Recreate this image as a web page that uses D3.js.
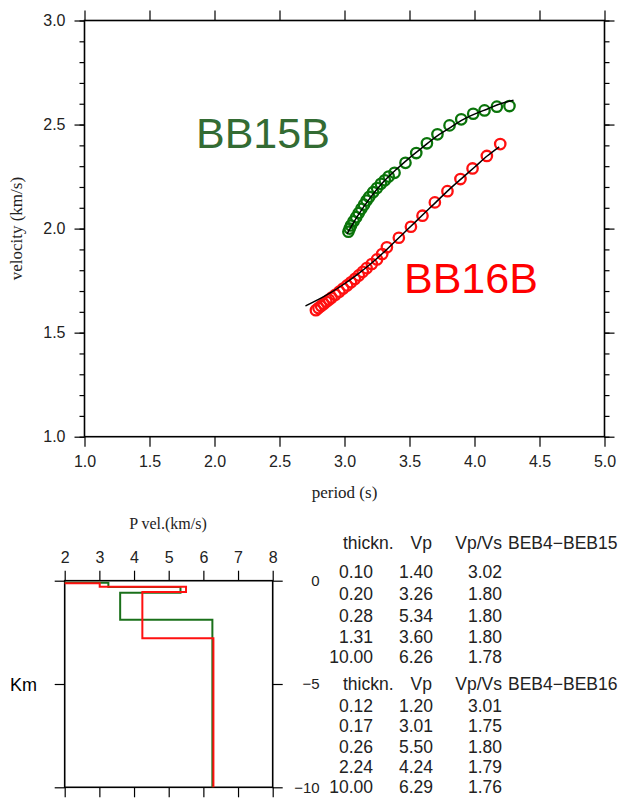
<!DOCTYPE html>
<html>
<head>
<meta charset="utf-8">
<script src="https://cdn.jsdelivr.net/npm/d3@7"></script>
<style>
  body { margin: 0; background: #fff; }
  svg { display: block; }
  .sans { font-family: "Liberation Sans", Arial, sans-serif; }
  .serif { font-family: "Liberation Serif", "Times New Roman", serif; }
</style>
</head>
<body>
<div id="chart"></div>
<script>
// Dispersion curves: observed group velocity (circles) and model fit (black line)
const bb15Period = [3.03, 3.04, 3.05, 3.07, 3.09, 3.11, 3.13, 3.15, 3.17, 3.19, 3.22, 3.25, 3.28, 3.31, 3.34, 3.385,
    3.469, 3.552, 3.634, 3.715, 3.808, 3.898, 3.990, 4.077, 4.172, 4.269];
const bb15Vel = [1.985, 2.000, 2.015, 2.035, 2.055, 2.075, 2.095, 2.115, 2.135, 2.152, 2.175, 2.195, 2.215, 2.232, 2.250, 2.268,
    2.316, 2.363, 2.410, 2.453, 2.496, 2.525, 2.552, 2.568, 2.586, 2.589];
const bb16Period = [2.78, 2.80, 2.82, 2.84, 2.86, 2.88, 2.90, 2.93, 2.96, 2.99, 3.02, 3.05, 3.08, 3.11, 3.14, 3.17, 3.21, 3.25, 3.29,
    3.326, 3.418, 3.511, 3.600, 3.695, 3.792, 3.892, 3.985, 4.095, 4.198];
const bb16Vel = [1.608, 1.618, 1.628, 1.638, 1.648, 1.658, 1.668, 1.682, 1.697, 1.712, 1.727, 1.742, 1.758, 1.775, 1.792, 1.810, 1.830, 1.852, 1.878,
    1.910, 1.956, 2.009, 2.062, 2.126, 2.180, 2.238, 2.289, 2.349, 2.406];

const fit15Period = [3.02, 3.1, 3.2, 3.3, 3.4, 3.5, 3.6, 3.7, 3.8, 3.9, 4.0, 4.1, 4.2, 4.3];
const fit15Vel = [1.975, 2.06, 2.15, 2.225, 2.285, 2.34, 2.39, 2.44, 2.48, 2.52, 2.55, 2.575, 2.60, 2.617];
const fit16Period = [2.70, 2.8, 2.9, 3.0, 3.1, 3.2, 3.3, 3.4, 3.5, 3.6, 3.7, 3.8, 3.9, 4.0, 4.1, 4.19];
const fit16Vel = [1.628, 1.66, 1.695, 1.735, 1.78, 1.83, 1.885, 1.945, 2.005, 2.065, 2.125, 2.185, 2.24, 2.295, 2.35, 2.393];

// Layered P-velocity models
const beb15Thick = [0.10, 0.20, 0.28, 1.31, 10.00];
const beb15Vp = [1.40, 3.26, 5.34, 3.60, 6.26];
const beb15VpVs = [3.02, 1.80, 1.80, 1.80, 1.78];
const beb16Thick = [0.12, 0.17, 0.26, 2.24, 10.00];
const beb16Vp = [1.20, 3.01, 5.50, 4.24, 6.29];
const beb16VpVs = [3.01, 1.75, 1.80, 1.79, 1.76];

const periodTicks = [1.0, 1.5, 2.0, 2.5, 3.0, 3.5, 4.0, 4.5, 5.0];
const velTicks = [1.0, 1.5, 2.0, 2.5, 3.0];
const vpTicks = [2, 3, 4, 5, 6, 7, 8];
const depthTicks = [0, -5, -10];

const GREEN = '#0a740a';
const RED = '#ff1010';

const svg = d3.select('#chart').append('svg')
    .attr('width', 630)
    .attr('height', 799);

// ---------- upper panel ----------
const x = d3.scaleLinear().domain([1, 5]).range([84.5, 604.5]);
const y = d3.scaleLinear().domain([1, 3]).range([436.7, 20.5]);

const upper = svg.append('g').attr('class', 'sans');

function styleAxis(g) {
    g.select('.domain').remove();
    g.selectAll('line').attr('stroke', '#000').attr('stroke-width', 1.2);
    g.selectAll('text').attr('fill', '#222').attr('font-size', '16px')
        .attr('font-family', '"Liberation Sans", Arial, sans-serif');
}

const minorVel = d3.range(10, 31).map(d => d / 10);

upper.append('g').attr('transform', `translate(${x.range()[0]},0)`)
    .call(d3.axisLeft(y).tickValues(minorVel).tickSize(5).tickFormat(''))
    .call(styleAxis);
upper.append('g').attr('transform', `translate(${x.range()[0]},0)`)
    .call(d3.axisLeft(y).tickValues(velTicks).tickSize(10).tickPadding(9).tickFormat(d3.format('.1f')))
    .call(styleAxis);
upper.append('g').attr('transform', `translate(${x.range()[1]},0)`)
    .call(d3.axisRight(y).tickValues(minorVel).tickSize(5).tickFormat(''))
    .call(styleAxis);
upper.append('g').attr('transform', `translate(${x.range()[1]},0)`)
    .call(d3.axisRight(y).tickValues(velTicks).tickSize(10).tickFormat(''))
    .call(styleAxis);
upper.append('g').attr('transform', `translate(0,${y.range()[1]})`)
    .call(d3.axisTop(x).tickValues(periodTicks).tickSize(10).tickFormat(''))
    .call(styleAxis);
upper.append('g').attr('transform', `translate(0,${y.range()[0]})`)
    .call(d3.axisBottom(x).tickValues(periodTicks).tickSize(10).tickPadding(9).tickFormat(d3.format('.1f')))
    .call(styleAxis);

upper.append('rect')
    .attr('x', x.range()[0]).attr('y', y.range()[1])
    .attr('width', x.range()[1] - x.range()[0])
    .attr('height', y.range()[0] - y.range()[1])
    .attr('fill', 'none').attr('stroke', '#000').attr('stroke-width', 1.6);

// observed circles
function drawCircles(px, py, color) {
    upper.append('g').selectAll('circle')
        .data(px.map((p, i) => [p, py[i]]))
        .join('circle')
        .attr('cx', d => x(d[0]))
        .attr('cy', d => y(d[1]))
        .attr('r', 5.2)
        .attr('fill', 'none')
        .attr('stroke', color)
        .attr('stroke-width', 2.3);
}
drawCircles(bb15Period, bb15Vel, GREEN);
drawCircles(bb16Period, bb16Vel, RED);

const fitLine = d3.line()
    .x(d => x(d[0]))
    .y(d => y(d[1]))
    .curve(d3.curveMonotoneX);

[[fit15Period, fit15Vel], [fit16Period, fit16Vel]].forEach(([px, py]) => {
    upper.append('path')
        .datum(px.map((p, i) => [p, py[i]]))
        .attr('fill', 'none')
        .attr('stroke', '#000')
        .attr('stroke-width', 1.5)
        .attr('d', fitLine);
});

upper.append('text')
    .attr('x', 196).attr('y', 148)
    .attr('font-size', '43px')
    .attr('fill', '#336b33')
    .text('BB15B');
upper.append('text')
    .attr('x', 404).attr('y', 293)
    .attr('font-size', '43px')
    .attr('fill', '#ff0000')
    .text('BB16B');

svg.append('text')
    .attr('class', 'serif')
    .attr('x', (x.range()[0] + x.range()[1]) / 2)
    .attr('y', 498)
    .attr('text-anchor', 'middle')
    .attr('font-size', '17px')
    .attr('fill', '#222')
    .text('period (s)');
svg.append('text')
    .attr('class', 'serif')
    .attr('transform', `translate(22,${(y.range()[0] + y.range()[1]) / 2}) rotate(-90)`)
    .attr('text-anchor', 'middle')
    .attr('font-size', '17px')
    .attr('fill', '#222')
    .text('velocity (km/s)');

// ---------- lower panel: velocity model ----------
const vx = d3.scaleLinear().domain([2, 8]).range([64.7, 272.7]);
const vy = d3.scaleLinear().domain([0, -10]).range([580.7, 787.3]);

const lower = svg.append('g').attr('class', 'sans');

lower.append('defs').append('clipPath').attr('id', 'modelClip')
    .append('rect')
    .attr('x', vx.range()[0]).attr('y', vy.range()[0])
    .attr('width', vx.range()[1] - vx.range()[0])
    .attr('height', vy.range()[1] - vy.range()[0]);

lower.append('g').attr('transform', `translate(0,${vy.range()[0]})`)
    .call(d3.axisTop(vx).tickValues(vpTicks).tickSize(10).tickPadding(8).tickFormat(d3.format('d')))
    .call(styleAxis);
lower.append('g').attr('transform', `translate(0,${vy.range()[1]})`)
    .call(d3.axisBottom(vx).tickValues(vpTicks).tickSize(10).tickFormat(''))
    .call(styleAxis);
lower.append('g').attr('transform', `translate(${vx.range()[0]},0)`)
    .call(d3.axisLeft(vy).tickValues(depthTicks).tickSize(10).tickFormat(''))
    .call(styleAxis);
const rightAx = lower.append('g').attr('transform', `translate(${vx.range()[1]},0)`)
    .call(d3.axisRight(vy).tickValues(depthTicks).tickSize(10).tickFormat(d3.format('d')))
    .call(styleAxis);
rightAx.selectAll('text').attr('text-anchor', 'end').attr('x', 47).attr('font-size', '15px');

lower.append('rect')
    .attr('x', vx.range()[0]).attr('y', vy.range()[0])
    .attr('width', vx.range()[1] - vx.range()[0])
    .attr('height', vy.range()[1] - vy.range()[0])
    .attr('fill', 'none').attr('stroke', '#000').attr('stroke-width', 1.6);

function stepPoints(thick, vp) {
    const pts = [];
    let depth = 0;
    thick.forEach((t, i) => {
        pts.push([vp[i], -depth]);
        depth += t;
        pts.push([vp[i], -depth]);
    });
    return pts;
}
const stepLine = d3.line().x(d => vx(d[0])).y(d => vy(d[1]));

[[beb15Thick, beb15Vp, '#1a701a'], [beb16Thick, beb16Vp, RED]].forEach(([th, vp, c]) => {
    lower.append('path')
        .datum(stepPoints(th, vp))
        .attr('clip-path', 'url(#modelClip)')
        .attr('fill', 'none')
        .attr('stroke', c)
        .attr('stroke-width', 2)
        .attr('d', stepLine);
});

svg.append('text')
    .attr('class', 'serif')
    .attr('x', 168).attr('y', 529)
    .attr('text-anchor', 'middle')
    .attr('font-size', '16px')
    .attr('fill', '#222')
    .text('P vel.(km/s)');
svg.append('text')
    .attr('class', 'sans')
    .attr('x', 10).attr('y', 691)
    .attr('font-size', '18px')
    .attr('fill', '#000')
    .text('Km');

// ---------- model table ----------
const tbl = svg.append('g').attr('class', 'sans').attr('font-size', '17.5px').attr('fill', '#222');
const fmt2 = d3.format('.2f');

function drawTable(headY, rowYs, name, thick, vp, vpvs) {
    tbl.append('text').attr('x', 343).attr('y', headY).text('thickn.');
    tbl.append('text').attr('x', 432).attr('y', headY).attr('text-anchor', 'end').text('Vp');
    tbl.append('text').attr('x', 502).attr('y', headY).attr('text-anchor', 'end').text('Vp/Vs');
    tbl.append('text').attr('x', 508).attr('y', headY).text(name);
    thick.forEach((t, i) => {
        tbl.append('text').attr('x', 373).attr('y', rowYs[i]).attr('text-anchor', 'end').text(fmt2(t));
        tbl.append('text').attr('x', 433).attr('y', rowYs[i]).attr('text-anchor', 'end').text(fmt2(vp[i]));
        tbl.append('text').attr('x', 502).attr('y', rowYs[i]).attr('text-anchor', 'end').text(fmt2(vpvs[i]));
    });
}
drawTable(549, [578, 600, 622, 643, 663], 'BEB4\u2212BEB15', beb15Thick, beb15Vp, beb15VpVs);
drawTable(690, [712, 732, 753, 773, 793], 'BEB4\u2212BEB16', beb16Thick, beb16Vp, beb16VpVs);
</script>
</body>
</html>
